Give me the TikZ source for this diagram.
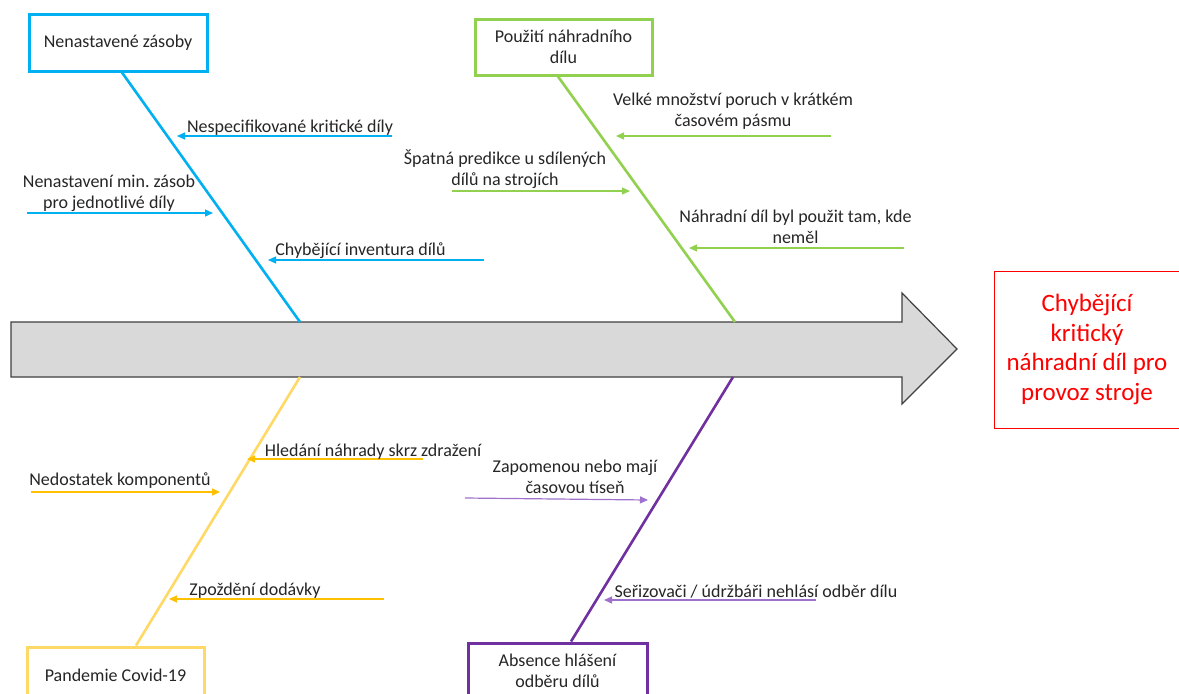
\documentclass[tikz,border=0pt]{standalone}
\usepackage{fontspec}
\setmainfont{Carlito}
\usetikzlibrary{arrows.meta}
\frenchspacing

\definecolor{causeblue}{HTML}{00B0F0}
\definecolor{causegreen}{HTML}{92D050}
\definecolor{causegold}{HTML}{FFD966}
\definecolor{causeamber}{HTML}{FFC000}
\definecolor{causepurple}{HTML}{7030A0}
\definecolor{causelilac}{HTML}{9E72CC}
\definecolor{bodyfill}{HTML}{D9D9D9}
\definecolor{bodyline}{HTML}{404040}
\definecolor{effectred}{HTML}{FF0000}
\definecolor{txt}{HTML}{262626}

\begin{document}
\begin{tikzpicture}[x=1pt,y=-1pt,
  every node/.style={font=\fontsize{18}{21}\selectfont, text=txt, inner sep=0pt},
  catbox/.style={draw=#1, line width=3pt, align=center, fill=white},
  bone/.style={draw=#1, line width=2.6pt},
  causearrow/.style={draw=#1, line width=1.2pt, -{Triangle[length=8pt,width=7pt]}},
  cause/.style={anchor=base, align=center}]

\useasboundingbox (0,0) rectangle (1179,694);
\fill[white] (0,0) rectangle (1179,694);

% main spine drawn as a block arrow
\draw[fill=bodyfill, draw=bodyline, line width=1.2pt]
  (11,322) -- (902,322) -- (902,293) -- (957,349) -- (902,404) -- (902,377) -- (11,377) -- cycle;

% joints where the category bones meet the spine
\coordinate (jA) at (300,322);
\coordinate (jB) at (735,322);
\coordinate (jC) at (300,377);
\coordinate (jD) at (733,377);

% category boxes
\node[catbox=causeblue,   minimum width=178pt, minimum height=57pt] (catA) at (118,42.5) {Nenastavené zásoby};
\node[catbox=causegreen,  minimum width=177pt, minimum height=56pt] (catB) at (563.5,47) {Použití náhradního\\dílu};
\node[catbox=causegold,   minimum width=177pt, minimum height=56pt] (catC) at (115.5,675) {Pandemie Covid-19};
\node[catbox=causepurple, minimum width=179pt, minimum height=56pt] (catD) at (557.5,671) {Absence hlášení\\odběru dílů};

% effect box
\node[draw=effectred, line width=1pt, minimum width=186pt, minimum height=157pt,
      text=effectred, font=\fontsize{25}{29.5}\selectfont, align=center]
  (effect) at (1087,349.5) {Chybějící\\kritický\\náhradní díl pro\\provoz stroje};

% bones
\draw[bone=causeblue]   ([xshift=4pt]catA.south)    -- (jA);
\draw[bone=causegreen]  ([xshift=-5.5pt]catB.south) -- (jB);
\draw[bone=causegold]   ([xshift=20.5pt]catC.north) -- (jC);
\draw[bone=causepurple] ([xshift=13.5pt]catD.north) -- (jD);

% causes: Nenastavené zásoby
\coordinate (a1t) at (392,136); \coordinate (a1h) at (177,136);
\coordinate (a2t) at (27,213);  \coordinate (a2h) at (213,213);
\coordinate (a3t) at (484,260); \coordinate (a3h) at (268,260);
\draw[causearrow=causeblue] (a1t) -- (a1h);
\draw[causearrow=causeblue] (a2t) -- (a2h);
\draw[causearrow=causeblue] (a3t) -- (a3h);
\node[cause] (a1) at (290,132) {Nespecifikované kritické díly};
\node[cause] (a2) at (109,208) {Nenastavení min. zásob\\pro jednotlivé díly};
\node[cause] (a3) at (360.5,255) {Chybějící inventura dílů};

% causes: Použití náhradního dílu
\coordinate (b1t) at (831,136); \coordinate (b1h) at (616,136);
\coordinate (b2t) at (452,191); \coordinate (b2h) at (630,191);
\coordinate (b3t) at (904,248); \coordinate (b3h) at (689,248);
\draw[causearrow=causegreen] (b1t) -- (b1h);
\draw[causearrow=causegreen] (b2t) -- (b2h);
\draw[causearrow=causegreen] (b3t) -- (b3h);
\node[cause] (b1) at (733,126) {Velké množství poruch v krátkém\\časovém pásmu};
\node[cause] (b2) at (505,185) {Špatná predikce u sdílených\\dílů na strojích};
\node[cause] (b3) at (795.5,243) {Náhradní díl byl použit tam, kde\\neměl};

% causes: Pandemie Covid-19
\coordinate (c1t) at (423,459); \coordinate (c1h) at (247,459);
\coordinate (c2t) at (31,492);  \coordinate (c2h) at (220,492);
\coordinate (c3t) at (384,599); \coordinate (c3h) at (169,599);
\draw[causearrow=causeamber] (c1t) -- (c1h);
\draw[causearrow=causeamber] (c2t) -- (c2h);
\draw[causearrow=causeamber] (c3t) -- (c3h);
\node[cause] (c1) at (373,456) {Hledání náhrady skrz zdražení};
\node[cause] (c2) at (120,485) {Nedostatek komponentů};
\node[cause] (c3) at (255,595) {Zpoždění dodávky};

% causes: Absence hlášení odběru dílů
\coordinate (d1t) at (465,498); \coordinate (d1h) at (648,500);
\coordinate (d2t) at (816,600); \coordinate (d2h) at (604,600);
\draw[causearrow=causelilac] (d1t) -- (d1h);
\draw[causearrow=causelilac] (d2t) -- (d2h);
\node[cause] (d1) at (575,493) {Zapomenou nebo mají\\časovou tíseň};
\node[cause] (d2) at (756,597) {Seřizovači / údržbáři nehlásí odběr dílu};

\end{tikzpicture}
\end{document}
